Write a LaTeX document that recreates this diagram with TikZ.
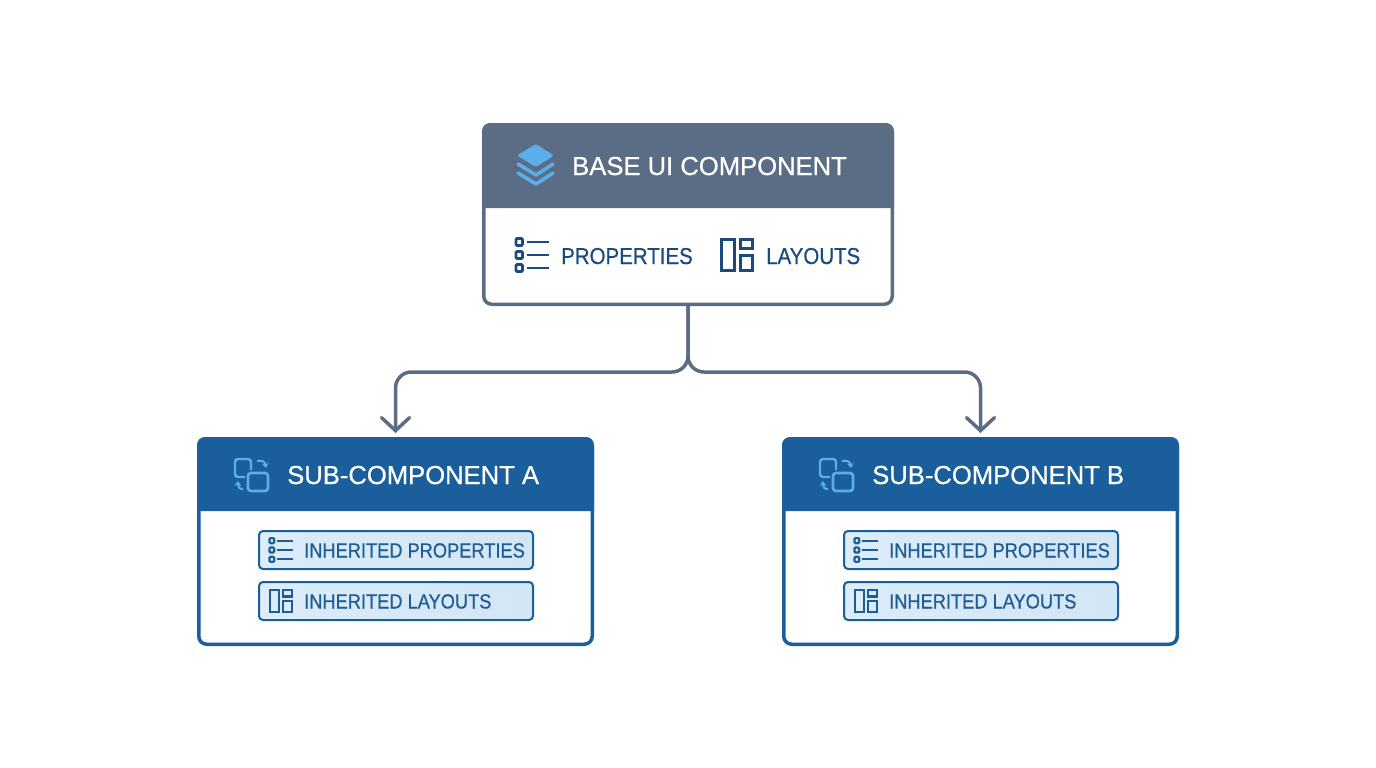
\documentclass[tikz,border=0pt]{standalone}
\usepackage{fontspec}
\setmainfont[FakeBold=0.6,FakeStretch=0.985]{Liberation Sans}
\newfontfamily\narrowfont[FakeBold=0.6,FakeStretch=0.89]{Liberation Sans}
\usepackage{tikz}
\usetikzlibrary{arrows.meta}
\definecolor{slatehead}{HTML}{5B6C85}
\definecolor{bluehead}{HTML}{1A5F9B}
\definecolor{navytext}{HTML}{1B4B7E}
\definecolor{inhertext}{HTML}{1F5C94}
\definecolor{inherfill}{HTML}{D3E6F6}
\definecolor{inherlight}{HTML}{DCECF9}
\definecolor{skyicon}{HTML}{5BAEEC}
\tikzset{
    basebox/.style={draw=slatehead,fill=white,line width=3.5pt,rounded corners=8pt,inner sep=0pt,
        minimum width=408.5pt,minimum height=179.5pt},
    subbox/.style={draw=bluehead,fill=white,line width=3.5pt,rounded corners=8pt,inner sep=0pt,
        minimum width=393.5pt,minimum height=205.5pt},
    inherbox/.style={draw=bluehead,left color=inherlight,right color=inherfill,line width=2pt,rounded corners=4pt,inner sep=0pt,
        minimum width=274pt,minimum height=38pt},
    headtext/.style={text=white,anchor=base west,inner sep=0pt,font=\fontsize{26}{26}\selectfont},
    basetext/.style={text=navytext,anchor=base west,inner sep=0pt,font=\narrowfont\fontsize{23}{23}\selectfont},
    inhertxt/.style={text=inhertext,anchor=base west,inner sep=0pt,font=\narrowfont\fontsize{20.5}{20.5}\selectfont},
    link/.style={draw=slatehead,line width=3.5pt,line cap=round,rounded corners=16pt},
    icon line/.style={line width=2.8pt},
    small icon/.style={scale=0.72,icon line/.style={line width=2.2pt}},
    pics/listicon/.style={code={
        \foreach \y in {-13,0,13} {
            \draw[rounded corners=1pt,icon line] (-16,\y-3.5) rectangle (-9.5,\y+3.5);
            \draw[icon line] (-5,\y) -- (17,\y);
        }
    }},
    pics/layouticon/.style={code={
        \draw[icon line] (-15.7,-15.7) rectangle (-2.3,15.7);
        \draw[icon line] (3.3,-15.7) rectangle (15.7,-6.3);
        \draw[icon line] (3.3,0.3) rectangle (15.7,15.7);
    }},
    pics/stackicon/.style={code={
        \fill[skyicon,rounded corners=1.5pt] (517,155.5) -- (536,144) -- (554,155.5) -- (536,167) -- cycle;
        \draw[skyicon,line width=3.6pt,line cap=round,line join=round] (518,164) -- (536,175) -- (553,164);
        \draw[skyicon,line width=3.6pt,line cap=round,line join=round] (518,173) -- (536,184) -- (553,173);
    }},
    pics/syncicon/.style={code={
        \draw[skyicon,line width=2.4pt,rounded corners=3pt] (-6,11) -- (-16,11) -- (-16,-7) -- (0,-7) -- (0,4);
        \draw[skyicon,line width=2.6pt,rounded corners=3pt] (-3,7) rectangle (17,25);
        \draw[skyicon,line width=2pt,-{Stealth[length=5pt,width=7pt]}] (6,-5) .. controls (12,-6) and (14,-4) .. (15,2);
        \draw[skyicon,line width=2pt,-{Stealth[length=5pt,width=7pt]}] (-8,23) .. controls (-12,23) and (-13,21) .. (-13,15);
    }}
}

\begin{document}
\begin{tikzpicture}[x=1pt,y=-1pt,>={Straight Barb[length=13pt,width=28pt,line cap=round]}]
    \useasboundingbox (0,0) rectangle (1376,768);
    \node[basebox] (base) at (688,214.5) {};
    \fill[slatehead] (base.west |- 0,208) -- (base.west |- 0,180) [rounded corners=8pt] |- (base.north) -| (base.east |- 0,180) [sharp corners] -- (base.east |- 0,208) -- cycle;
    \pic at (0,0) {stackicon};
    \node[headtext] (basetitle) at (572,175) {BASE UI COMPONENT};
    \pic[navytext] at (532,255) {listicon};
    \node[basetext] (baseprops) at (561,264) {PROPERTIES};
    \pic[navytext] at (737,255) {layouticon};
    \node[basetext] (baselay) at (766,264) {LAYOUTS};
    \foreach \s/\dx in {A/0,B/585} {
        \node[subbox] (sub\s) at (395.5+\dx,541.5) {};
        \fill[bluehead] (sub\s.west |- 0,511) -- (sub\s.west |- 0,480) [rounded corners=8pt] |- (sub\s.north) -| (sub\s.east |- 0,480) [sharp corners] -- (sub\s.east |- 0,511) -- cycle;
        \pic at (251+\dx,466) {syncicon};
        \node[headtext] (title\s) at (287+\dx,484) {SUB-COMPONENT \s};
        \node[inherbox] (props\s) at (396+\dx,550) {};
        \node[inherbox] (lay\s) at (396+\dx,601) {};
        \pic[inhertext,small icon] at (281+\dx,550) {listicon};
        \pic[inhertext,small icon] at (281+\dx,601) {layouticon};
        \node[inhertxt] (propstxt\s) at (304+\dx,557.5) {INHERITED PROPERTIES};
        \node[inhertxt] (laytxt\s) at (304+\dx,608.5) {INHERITED LAYOUTS};
    }
    \coordinate (fork) at (base.south |- 0,372);
    \draw[link,->,shorten >=4pt] (base.south) -- (fork) -| (subA.north);
    \draw[link,->,shorten >=4pt] (base.south) -- (fork) -| (subB.north);
\end{tikzpicture}
\end{document}
